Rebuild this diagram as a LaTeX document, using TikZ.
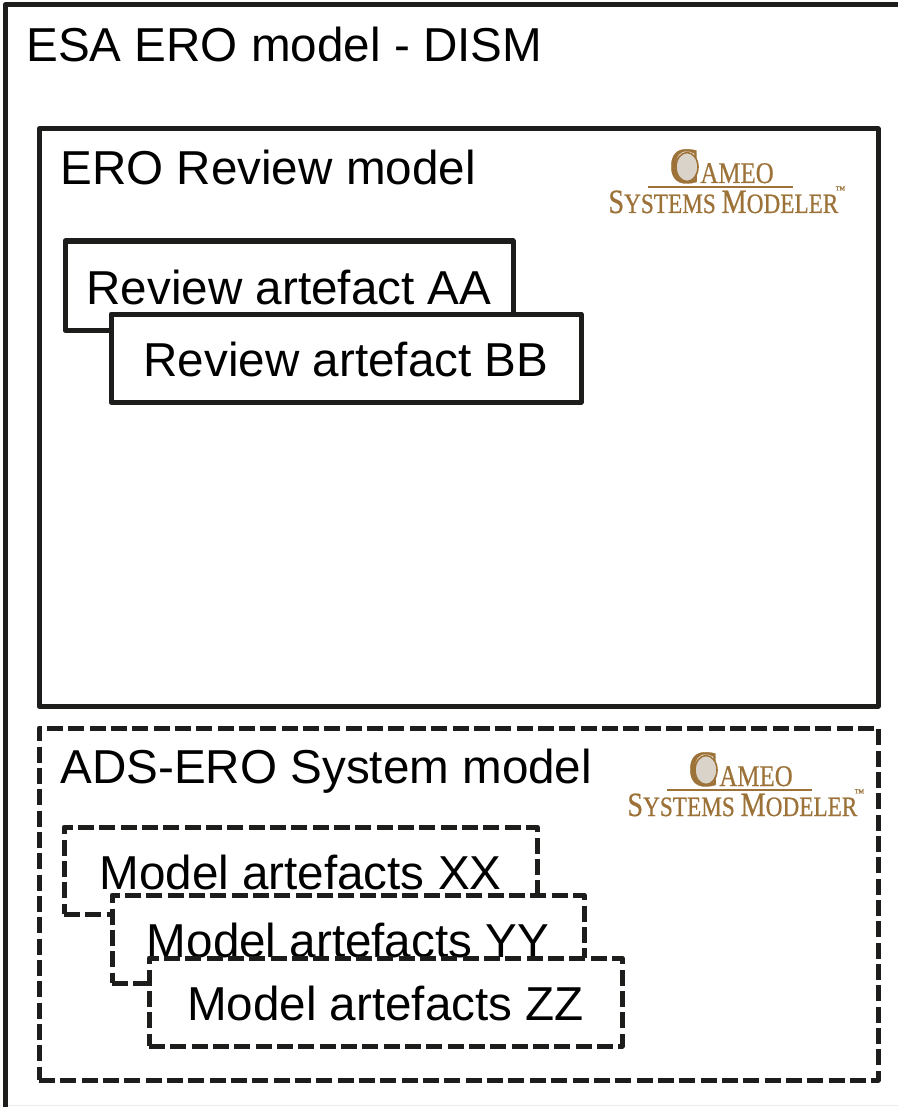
\documentclass[tikz,border=0pt]{standalone}
\usepackage{fontspec}
\setmainfont{Liberation Sans}
\newfontfamily\logofont[FakeBold=0.6]{Liberation Serif}
\definecolor{ink}{HTML}{1D1D1B}
\definecolor{logobrown}{HTML}{9C7238}
\definecolor{cameo}{HTML}{D9D3CA}
\newcommand{\lsize}[1]{\fontsize{#1}{#1}\selectfont}
\usetikzlibrary{shapes.geometric}
\tikzset{
  frame/.style={draw=ink,line width=2.5pt,line join=round},
  solidbox/.style={frame,fill=white,inner sep=0pt,outer sep=0pt,font=\lsize{23.8},text height=18.5pt,text depth=0pt,text=black},
  dashbox/.style={solidbox,dash pattern=on 8pt off 2.67pt},
  title/.style={anchor=base west,inner sep=0pt,font=\lsize{23.8},text=black},
  logotext/.style={anchor=base west,inner sep=0pt,text=logobrown},
  logo/.pic={
    \draw[logobrown,line width=1pt] (0,0) coordinate (-a) -- (145,0) coordinate (-b);
    \node[fill=cameo,draw=logobrown,line width=.8pt,ellipse,minimum width=11pt,minimum height=14.5pt,inner sep=0pt] (-oval) at (39,-20) {};
    \node[logotext] (-c) at (21,-4) {\logofont\lsize{25.5}\scalebox{.88}[1]{C}};
    \node[logotext] (-ameo) at (52,-4) {\logofont\lsize{15}\scalebox{.83}[1]{AMEO}};
    \node[logotext] (-sys) at (-40,26) {\logofont\scalebox{.83}[1]{\lsize{17}S\lsize{14}YSTEMS \lsize{17}M\lsize{14}ODELER}};
    \node[logotext] (-tm) at (187,6) {\logofont\lsize{5}™};
  }
}
\begin{document}
\begin{tikzpicture}[x=.5pt,y=-.5pt]
\useasboundingbox (0,0) rectangle (898,1107);
\fill[white] (0,0) rectangle (898,1107);
% outer model frame
\coordinate (bl) at (5,1107);
\coordinate (tl) at (5,5);
\coordinate (tr) at (898,5);
\coordinate (fl) at (5,1105.5);
\coordinate (fr) at (898,1105.5);
\draw[gray!15,line width=.6pt] (fl) -- (fr);
\draw[frame] (bl) -- (tl) -- (tr);
\node[title] (esa) at (26,62) {ESA ERO model - DISM};
% review model
\node[solidbox,minimum width=419.5pt,minimum height=288.5pt] (review) at (458.5,417.5) {};
\node[title] (reviewt) at (60,185) {ERO Review model};
\node[solidbox,minimum width=224pt,minimum height=44.5pt] (aa) at (289,285.5) {Review artefact AA};
\node[solidbox,text height=18.2pt,minimum width=235pt,minimum height=44pt] (bb) at (346,358) {Review artefact BB};
\fill[white] (593,130.8) rectangle (855,140);
\pic (logoa) at (648,187) {logo};
% system model
\node[dashbox,minimum width=419.5pt,minimum height=176pt] (system) at (458.5,904) {};
\node[title] (systemt) at (60,783) {ADS-ERO System model};
\node[dashbox,minimum width=236.5pt,minimum height=43.5pt] (xx) at (300.5,870.5) {Model artefacts XX};
\node[dashbox,minimum width=236pt,minimum height=44pt] (yy) at (348,939) {Model artefacts YY};
\node[dashbox,text height=18pt,minimum width=236.5pt,minimum height=44pt] (zz) at (385.5,1002) {Model artefacts ZZ};
\pic (logob) at (667,790) {logo};
\end{tikzpicture}
\end{document}
